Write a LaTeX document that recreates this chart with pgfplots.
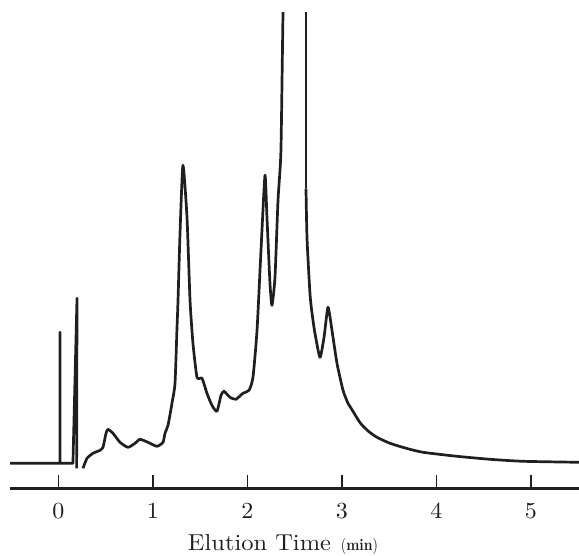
\documentclass[border=0pt]{standalone}
\usepackage{pgfplots}
\pgfplotsset{compat=1.18}
\newcommand\tl[1]{\scalebox{2.4}[2.3]{#1}}
\begin{document}
\begin{tikzpicture}
\useasboundingbox (0,0) rectangle (579pt,556pt);
\begin{axis}[
  at={(10pt,67.7pt)}, anchor=south west,
  scale only axis, width=569pt, height=476pt,
  xmin=-0.513, xmax=5.508, ymin=0, ymax=476,
  axis x line=bottom, axis y line=none,
  axis line style={line width=2.6pt, black!88, -},
  xtick={0,1,2,3,4,5},
  xticklabels={\tl{0},\tl{1},\tl{2},\tl{3},\tl{4},\tl{5}},
  tick align=inside, tick pos=bottom,
  major tick length=13pt,
  x tick style={line width=1.8pt, black!88},
  xticklabel style={font=\normalsize, yshift=-11.4pt, text=black!88},
  clip=true,
]
\addplot[line width=2.7pt, black!88, line join=round] coordinates {
(-0.513,25) (0.016,25) (0.016,156) (0.016,25) (0.153,25) (0.196,190) (0.192,20)
};
\addplot[line width=2.7pt, black!88, line join=round, smooth, tension=0.35] coordinates {
(0.259,20) (0.302,30) (0.365,35) (0.439,38) (0.471,41) (0.503,55) (0.524,59)
(0.577,55) (0.651,46) (0.735,41) (0.810,45) (0.862,49) (0.947,46) (1.042,42)
(1.106,46) (1.127,55) (1.159,63) (1.201,85) (1.233,105) (1.254,160) (1.265,188)
(1.286,255) (1.317,323) (1.360,271) (1.392,188) (1.423,145) (1.466,111) (1.519,110)
(1.571,95) (1.624,83) (1.677,77) (1.720,93) (1.751,97) (1.815,91) (1.878,89)
(1.952,95) (2.016,98) (2.058,111) (2.101,158) (2.143,238) (2.185,313) (2.206,271)
(2.238,205) (2.259,183) (2.291,211) (2.323,288) (2.354,338) (2.376,475) (2.40,560)
};
\addplot[line width=2.7pt, black!88, line join=round] coordinates {
(2.40,560) (2.619,560) (2.619,475) (2.619,300)
};
\addplot[line width=2.7pt, black!88, line join=round, smooth, tension=0.35] coordinates {
(2.619,300) (2.630,250) (2.661,195) (2.683,175) (2.714,155)
(2.767,131) (2.810,151) (2.852,181) (2.894,158) (2.947,125) (3.011,98) (3.063,85)
(3.090,81) (3.196,65) (3.280,57) (3.370,51) (3.508,45) (3.680,40) (3.857,36)
(4.217,32) (4.566,29) (4.915,27) (5.508,26)
};
\coordinate (lab) at (axis cs:1.368,0);
\end{axis}
\node[anchor=base west, inner sep=0pt, text=black!88] at ([yshift=-62.4pt]lab)
  {\resizebox{143pt}{16pt}{Elution Time}\hspace{10pt}\resizebox{37pt}{12.2pt}{(\textbf{min})}};
\end{tikzpicture}
\end{document}
